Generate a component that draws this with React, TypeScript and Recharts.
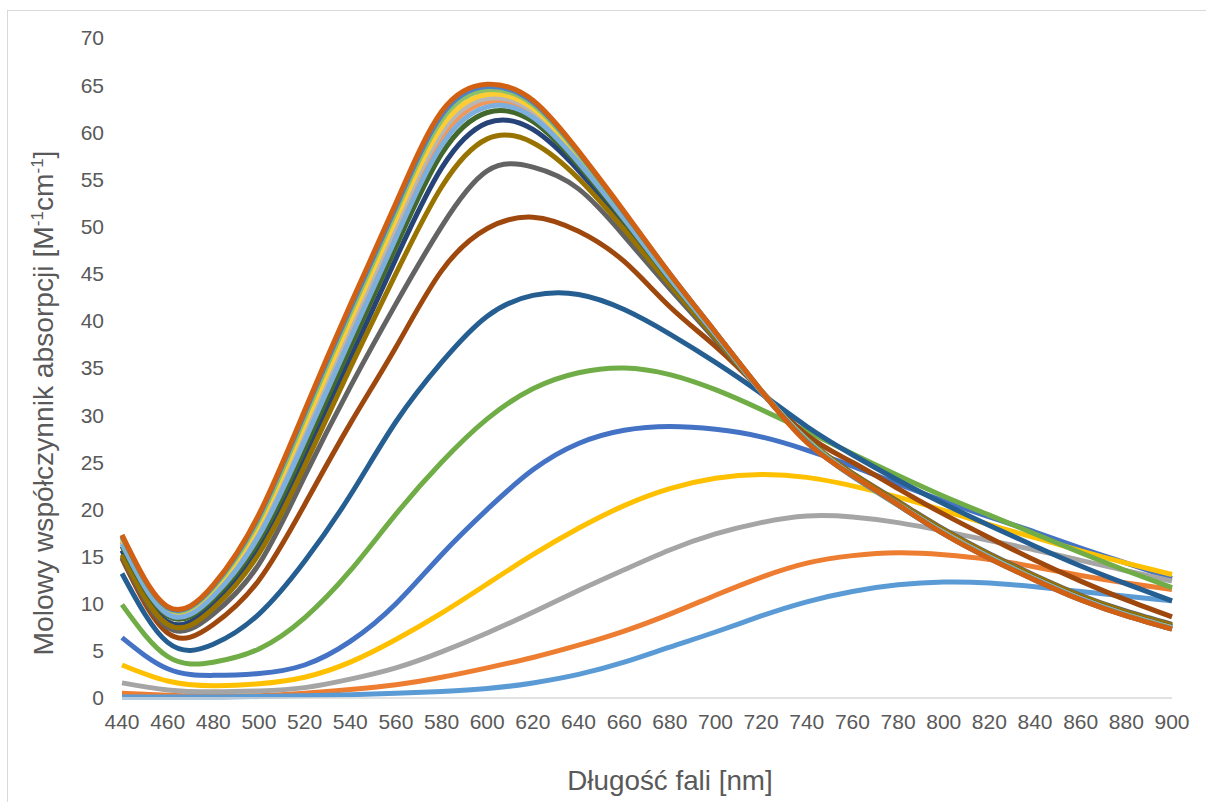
import React from "react";
import { LineChart, Line, XAxis, YAxis } from "recharts";

const wavelengths = [440, 460, 480, 500, 520, 540, 560, 580, 600, 620, 640, 660, 680, 700, 720, 740, 760, 780, 800, 820, 840, 860, 880, 900];

const s01 = [6.4, 3.1, 2.4, 2.6, 3.5, 6.0, 10.0, 15.2, 20.0, 24.2, 27.0, 28.4, 28.8, 28.5, 27.7, 26.3, 24.6, 22.7, 20.9, 19.2, 17.6, 15.9, 14.3, 12.7];
const s02 = [0.5, 0.3, 0.2, 0.25, 0.5, 0.9, 1.4, 2.2, 3.2, 4.3, 5.6, 7.1, 8.9, 10.9, 12.8, 14.3, 15.1, 15.4, 15.2, 14.7, 13.9, 13.0, 12.2, 11.5];
const s03 = [1.6, 0.85, 0.65, 0.75, 1.1, 2.0, 3.2, 4.9, 6.9, 9.1, 11.4, 13.6, 15.7, 17.4, 18.6, 19.3, 19.2, 18.6, 17.7, 16.7, 15.7, 14.6, 13.5, 12.4];
const s04 = [3.5, 1.8, 1.3, 1.5, 2.2, 3.8, 6.2, 9.0, 12.1, 15.2, 18.0, 20.4, 22.2, 23.3, 23.7, 23.4, 22.5, 21.3, 19.9, 18.4, 17.0, 15.6, 14.3, 13.1];
const s05 = [0.1, 0.1, 0.1, 0.15, 0.25, 0.35, 0.5, 0.7, 1.0, 1.6, 2.5, 3.8, 5.4, 7.0, 8.7, 10.2, 11.3, 12.0, 12.3, 12.2, 11.8, 11.3, 10.8, 10.3];
const s06 = [9.9, 4.4, 3.8, 5.2, 8.5, 13.5, 19.5, 25.0, 29.6, 32.8, 34.5, 35.0, 34.3, 32.7, 30.6, 28.3, 25.9, 23.6, 21.4, 19.4, 17.4, 15.4, 13.5, 11.7];
const s07 = [15.65, 8.1, 10.0, 16.0, 25.5, 36.0, 46.6, 56.2, 61.0, 60.3, 55.95, 50.25, 44.2, 38.4, 32.5, 27.4, 23.7, 20.65, 17.7, 15.1, 12.8, 10.7, 9.0, 7.6];
const s08 = [14.8, 6.9, 7.8, 12.5, 20.5, 29.1, 37.2, 45.3, 49.8, 51.0, 49.5, 46.3, 41.5, 37.3, 32.6, 27.9, 25.0, 22.2, 19.5, 17.0, 14.6, 12.4, 10.4, 8.6];
const s09 = [15.0, 7.5, 8.9, 14.2, 23.5, 33.0, 41.8, 50.0, 55.9, 56.3, 54.0, 49.0, 43.4, 38.0, 32.5, 27.5, 23.85, 20.85, 17.9, 15.3, 13.0, 10.9, 9.2, 7.8];
const s10 = [15.2, 7.8, 9.5, 15.3, 24.6, 35.0, 45.0, 54.2, 59.3, 58.9, 55.1, 49.7, 43.85, 38.2, 32.5, 27.45, 23.8, 20.75, 17.8, 15.2, 12.9, 10.8, 9.1, 7.7];
const s11 = [13.2, 5.9, 5.7, 8.9, 14.5, 21.5, 29.3, 35.6, 40.5, 42.7, 42.8, 41.2, 38.6, 35.6, 32.3, 28.8, 25.8, 23.1, 20.6, 18.3, 16.1, 14.0, 12.1, 10.3];
const s12 = [16.1, 8.7, 10.5, 16.65, 26.45, 37.2, 47.85, 57.7, 62.1, 61.15, 56.5, 50.6, 44.4, 38.5, 32.55, 27.4, 23.65, 20.6, 17.6, 15.0, 12.7, 10.6, 8.9, 7.5];
const s13 = [17.1, 9.55, 11.8, 19.1, 29.9, 41.0, 51.8, 61.5, 64.65, 63.05, 57.8, 51.45, 44.9, 38.75, 32.6, 27.3, 23.5, 20.45, 17.45, 14.85, 12.55, 10.45, 8.75, 7.35];
const s14 = [16.55, 9.05, 11.05, 17.7, 27.95, 38.85, 49.55, 59.35, 63.2, 61.95, 57.05, 50.95, 44.6, 38.6, 32.55, 27.35, 23.6, 20.5, 17.55, 14.95, 12.65, 10.55, 8.85, 7.45];
const s15 = [16.7, 9.2, 11.25, 18.05, 28.45, 39.45, 50.15, 59.95, 63.6, 62.25, 57.25, 51.1, 44.7, 38.65, 32.55, 27.35, 23.6, 20.5, 17.5, 14.9, 12.6, 10.5, 8.8, 7.4];
const s16 = [16.85, 9.35, 11.45, 18.45, 29.0, 40.05, 50.8, 60.55, 64.0, 62.55, 57.45, 51.25, 44.8, 38.7, 32.6, 27.35, 23.55, 20.45, 17.5, 14.9, 12.6, 10.5, 8.8, 7.4];
const s17 = [16.35, 8.9, 10.8, 17.2, 27.25, 38.1, 48.8, 58.6, 62.7, 61.6, 56.8, 50.8, 44.5, 38.55, 32.55, 27.35, 23.6, 20.55, 17.55, 14.95, 12.65, 10.55, 8.85, 7.45];
const s18 = [17.05, 9.5, 11.7, 18.9, 29.7, 40.8, 51.6, 61.3, 64.5, 62.95, 57.7, 51.4, 44.9, 38.75, 32.6, 27.3, 23.55, 20.45, 17.45, 14.85, 12.55, 10.45, 8.75, 7.35];
const s19 = [17.2, 9.6, 11.9, 19.3, 30.2, 41.3, 52.1, 61.8, 64.85, 63.2, 57.9, 51.5, 45.0, 38.8, 32.6, 27.2, 23.55, 20.45, 17.4, 14.8, 12.5, 10.4, 8.7, 7.3];
const s20 = [17.3, 9.7, 12.0, 19.5, 30.5, 41.7, 52.5, 62.2, 65.1, 63.4, 58.0, 51.6, 45.0, 38.8, 32.6, 27.1, 23.6, 20.5, 17.4, 14.8, 12.5, 10.4, 8.7, 7.3];

const seriesColors = ["#4472C4", "#ED7D31", "#A5A5A5", "#FFC000", "#5B9BD5", "#70AD47", "#264478", "#9E480E", "#636363", "#997300", "#255E91", "#43682B", "#698ED0", "#F1975A", "#B7B7B7", "#FFCD33", "#7CAFDD", "#8CC168", "#4F81C6", "#D26012"];
const seriesValues = [s01, s02, s03, s04, s05, s06, s07, s08, s09, s10, s11, s12, s13, s14, s15, s16, s17, s18, s19, s20];

const xTicks = [440, 460, 480, 500, 520, 540, 560, 580, 600, 620, 640, 660, 680, 700, 720, 740, 760, 780, 800, 820, 840, 860, 880, 900];
const yTicks = [0, 5, 10, 15, 20, 25, 30, 35, 40, 45, 50, 55, 60, 65, 70];

const data = wavelengths.map((x, i) => {
  const row: Record<string, number> = { x };
  seriesValues.forEach((vals, k) => {
    row["s" + (k + 1)] = vals[i];
  });
  return row;
});

const FONT = '"Liberation Sans", Arial, sans-serif';
const TEXT = "#595959";

export default function App() {
  return (
    <div style={{ position: "relative", width: 1206, height: 802, overflow: "hidden", fontFamily: FONT, background: "#fff" }}>
      <style>{`html,body{margin:0;padding:0;overflow:hidden;background:#fff}`}</style>
      <div style={{ position: "absolute", left: 7, top: 10, width: 1300, height: 900, border: "1px solid #D9D9D9", boxSizing: "border-box" }} />
      <div style={{ position: "absolute", left: 0, top: 0 }}>
        <LineChart width={1206} height={802} data={data} margin={{ top: 38, right: 34, bottom: 0, left: 0 }}>
          <XAxis
            dataKey="x"
            type="number"
            domain={[440, 900]}
            ticks={xTicks}
            interval={0}
            height={104}
            axisLine={{ stroke: "#D9D9D9", strokeWidth: 1.5 }}
            tickLine={false}
            tickSize={0}
            tickMargin={16}
            tick={{ fill: TEXT, fontSize: 21, fontFamily: FONT }}
          />
          <YAxis
            type="number"
            domain={[0, 70]}
            ticks={yTicks}
            interval={0}
            width={122}
            axisLine={false}
            tickLine={false}
            tickSize={0}
            tickMargin={18}
            tick={{ fill: TEXT, fontSize: 21, fontFamily: FONT }}
          />
          {seriesValues.map((_, k) => (
            <Line
              key={k}
              type="natural"
              dataKey={"s" + (k + 1)}
              stroke={seriesColors[k]}
              strokeWidth={5}
              dot={false}
              activeDot={false}
              isAnimationActive={false}
            />
          ))}
        </LineChart>
      </div>
      <svg width={1206} height={802} style={{ position: "absolute", left: 0, top: 0, pointerEvents: "none" }}>
        <text x={670} y={790} textAnchor="middle" fontSize={27.8} fill={TEXT} fontFamily={FONT}>
          Długość fali [nm]
        </text>
        <text transform="translate(53,403) rotate(-90)" textAnchor="middle" fontSize={28.2} fill={TEXT} fontFamily={FONT}>
          Molowy współczynnik absorpcji [M
          <tspan dy={-10} fontSize={17}>-1</tspan>
          <tspan dy={10}>cm</tspan>
          <tspan dy={-10} fontSize={17}>-1</tspan>
          <tspan dy={10}>]</tspan>
        </text>
      </svg>
    </div>
  );
}
